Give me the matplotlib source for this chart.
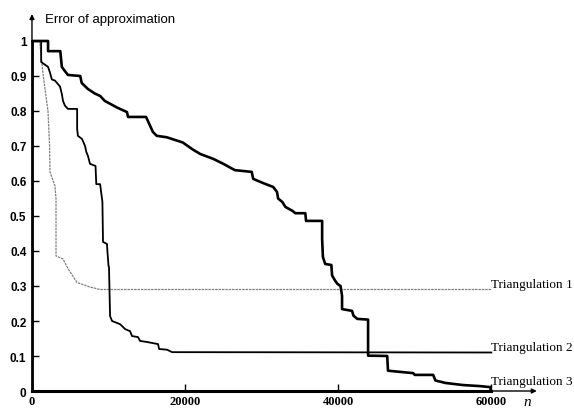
import numpy as np
import matplotlib.pyplot as plt

# error of approximation vs. number of points n
tri1_n = [0, 1000, 1440, 2090, 2300, 2350, 3000, 3140, 3140, 4050, 4700, 5880, 7580, 8890, 60000]
tri1_err = [1.0, 1.0, 0.906, 0.8, 0.7, 0.626, 0.586, 0.549, 0.386, 0.377, 0.35, 0.31, 0.297, 0.29, 0.29]

tri2_n = [0, 1200, 1200, 2100, 2350, 2600, 3000, 3660, 3900, 4050, 4310, 4700, 5900, 5900, 6000,
          6540, 6930, 7100, 7320, 7580, 8300, 8400, 8900, 9150, 9200, 9280, 9800, 9850, 10000,
          10060, 10200, 10460, 11500, 11890, 12150, 12810, 13070, 13850, 14120, 15030, 16470,
          16600, 17640, 18300, 60000]
tri2_err = [1.0, 1.0, 0.94, 0.926, 0.91, 0.89, 0.887, 0.87, 0.849, 0.829, 0.815, 0.806, 0.806, 0.749, 0.729,
            0.72, 0.7, 0.683, 0.671, 0.649, 0.643, 0.591, 0.591, 0.549, 0.54, 0.426, 0.42, 0.40, 0.357,
            0.354, 0.214, 0.2, 0.191, 0.183, 0.177, 0.171, 0.157, 0.154, 0.143, 0.14, 0.134,
            0.12, 0.118, 0.111, 0.11]

tri3_n = [0, 0, 2100, 2100, 3700, 3900, 4300, 4700, 6300, 6500, 7300, 8200, 8900, 9500, 11100,
          12400, 12550, 14900, 15800, 16300, 17600, 19700, 21000, 22000, 23700, 25000, 26500,
          28700, 28900, 30200, 31500, 32000, 32150, 32700, 33100, 34000, 34400, 35700, 35800,
          37900, 37900, 38000, 38300, 39100, 39200, 39600, 39900, 40300, 40500, 40500, 41800,
          42000, 42500, 43900, 43900, 46400, 46500, 49800, 50000, 52400, 52700, 54000, 56300,
          58500, 59900, 59900]
tri3_err = [0.0, 1.0, 1.0, 0.971, 0.971, 0.926, 0.914, 0.903, 0.9, 0.88, 0.863, 0.85, 0.843, 0.829, 0.81,
            0.797, 0.783, 0.783, 0.74, 0.729, 0.725, 0.71, 0.69, 0.677, 0.663, 0.649, 0.631,
            0.626, 0.606, 0.594, 0.583, 0.569, 0.55, 0.54, 0.526, 0.515, 0.508, 0.508, 0.486,
            0.486, 0.434, 0.383, 0.363, 0.36, 0.33, 0.315, 0.306, 0.30, 0.272, 0.234, 0.229,
            0.215, 0.206, 0.204, 0.101, 0.1, 0.058, 0.051, 0.046, 0.046, 0.03, 0.023, 0.017,
            0.014, 0.011, 0.004]

labels = ["Triangulation 1", "Triangulation 2", "Triangulation 3"]
label_y = [0.305, 0.125, 0.03]

x_ticks = [0, 20000, 40000, 60000]
y_ticks = [0, 0.1, 0.2, 0.3, 0.4, 0.5, 0.6, 0.7, 0.8, 0.9, 1.0]
y_ticklabels = ["0", "0.1", "0.2", "0.3", "0.4", "0.5", "0.6", "0.7", "0.8", "0.9", "1"]

fig = plt.figure(figsize=(5.74, 4.10), dpi=100)
ax = fig.add_axes([0.0557, 0.0439, 0.887, 0.9305])

ax.plot(tri1_n, tri1_err, color="0.5", lw=0.9, linestyle=(0, (2, 0.7)))
ax.plot(tri2_n, tri2_err, color="black", lw=1.3)
ax.plot(tri3_n, tri3_err, color="black", lw=1.9)

ax.set_xlim(0, 66500)
ax.set_ylim(0, 1.09)

# axes: thick spines with thin arrows
for side in ["top", "right"]:
    ax.spines[side].set_visible(False)
ax.spines["left"].set_linewidth(2)
ax.spines["left"].set_bounds(0, 1)
ax.spines["bottom"].set_linewidth(2.2)
ax.spines["bottom"].set_bounds(0, 60000)
ax.annotate("", xy=(0, 1.085), xytext=(0, 0.99),
            arrowprops=dict(arrowstyle="-|>", lw=1, color="black", mutation_scale=7),
            annotation_clip=False)
ax.annotate("", xy=(66300, 0), xytext=(59500, 0),
            arrowprops=dict(arrowstyle="-|>", lw=1, color="black", mutation_scale=7),
            annotation_clip=False)

ax.set_xticks(x_ticks)
ax.set_xticklabels([str(t) for t in x_ticks], fontfamily="Liberation Serif",
                   fontweight="bold", fontsize=9)
ax.set_yticks(y_ticks)
ax.set_yticklabels(y_ticklabels, fontfamily="Liberation Sans", fontweight="bold", fontsize=8.5)
ax.tick_params(axis="both", direction="in", length=5, width=1)
ax.tick_params(axis="x", pad=3)
ax.tick_params(axis="y", pad=4)

ax.text(1700, 1.063, "Error of approximation", fontfamily="Liberation Sans",
        fontsize=9.5, va="center", ha="left")
ax.text(64700, -0.03, "n", fontfamily="Liberation Serif", fontstyle="italic",
        fontsize=11, va="center", ha="center", clip_on=False)

for lab, y in zip(labels, label_y):
    ax.text(60000, y, lab, fontfamily="Liberation Serif", fontsize=9.5,
            va="center", ha="left", clip_on=False)

fig.savefig("out.png", dpi=100)
